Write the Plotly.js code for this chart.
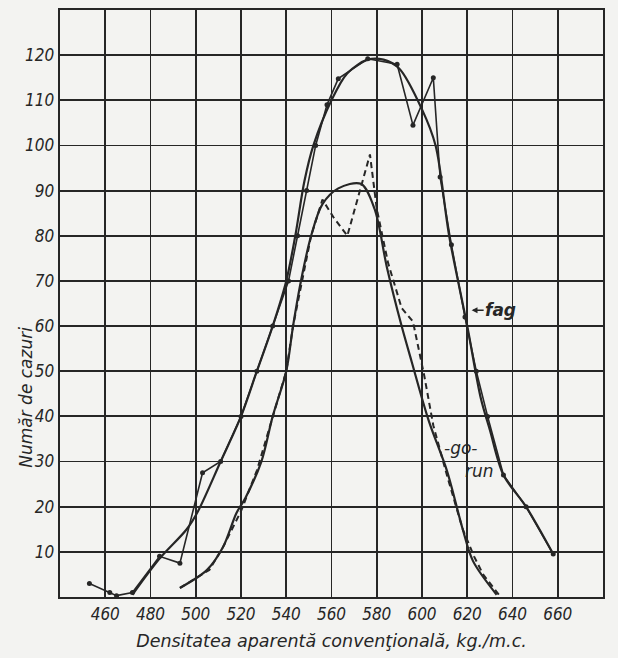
<!DOCTYPE html>
<html>
<head>
<meta charset="utf-8">
<script src="https://cdn.plot.ly/plotly-3.0.1.min.js"></script>
<style>
  html, body { margin: 0; padding: 0; background: #f3f3f1; }
  #chart { width: 618px; height: 658px; }
</style>
</head>
<body>
<div id="chart"></div>
<script>
// ---- Data ----
// Beech (fag): fitted smooth curve
const fagFitX = [472, 484, 496, 501, 511, 520, 527, 534, 540, 544, 548, 552, 560, 567, 576, 583, 590, 600, 606, 612, 620, 626, 630, 636, 646, 658];
const fagFitY = [0.5, 8.5, 15, 19, 30, 40, 50, 60, 70, 80, 92, 100, 110, 116, 119, 119, 117, 108, 100, 80, 60, 44, 37, 27, 20, 9.5];
// Beech (fag): observed polyline with dots
const fagObsX = [453, 462, 465, 472, 484, 493, 503, 511, 520, 527, 534, 541, 545, 549, 553, 558, 563, 576, 589, 596, 605, 608, 613, 619, 624, 629, 636, 646, 658];
const fagObsY = [3, 1, 0.3, 1, 9, 7.5, 27.5, 30, 40, 50, 60, 70, 80, 90, 100, 109, 114.8, 119.2, 118, 104.5, 115, 93, 78, 62, 50, 40, 27, 20, 9.5];
// Sessile oak (gorun): fitted smooth curve
const gorunFitX = [493, 505, 512, 518, 522, 529, 534, 540, 543, 546.5, 551, 556, 563, 573, 579, 584.5, 591, 595.5, 603, 611, 618, 622.5, 633];
const gorunFitY = [2, 6, 11, 18.6, 22, 30, 40, 50, 60, 70, 80, 87, 90.5, 91.5, 86, 73, 60, 52, 39, 28, 15, 8, 0.5];
// Sessile oak (gorun): observed dashed polyline
const gorunObsX = [493, 506, 512, 520, 527, 534, 540, 543, 547, 551, 556, 561, 567, 572, 577, 580, 585, 591, 596, 601, 605, 611, 618, 623, 627, 634];
const gorunObsY = [2, 6, 11, 19, 28, 40, 50, 60, 70, 80, 88, 84, 80, 89, 98, 86, 74, 64, 61, 49, 38, 27, 15, 9, 5, 0.5];
// Tick values
const xTicks = [460, 480, 500, 520, 540, 560, 580, 600, 620, 640, 660];
const yTicks = [10, 20, 30, 40, 50, 60, 70, 80, 90, 100, 110, 120];

const ink = '#262626';
const condensed = 'DejaVu Sans Condensed, Liberation Sans Narrow, DejaVu Sans';
const tickFont = { family: condensed, size: 17, color: ink, style: 'italic' };
const labelFont = { family: 'DejaVu Sans', size: 17.5, color: ink, style: 'italic' };

const traces = [
  { x: fagFitX, y: fagFitY, type: 'scatter', mode: 'lines', name: 'fag (curbă)',
    line: { color: ink, width: 2.2, shape: 'spline', smoothing: 0.9 } },
  { x: fagObsX, y: fagObsY, type: 'scatter', mode: 'lines+markers', name: 'fag',
    line: { color: ink, width: 1.6 }, marker: { color: ink, size: 5 } },
  { x: gorunFitX, y: gorunFitY, type: 'scatter', mode: 'lines', name: 'gorun (curbă)',
    line: { color: ink, width: 2.2, shape: 'spline', smoothing: 0.9 } },
  { x: gorunObsX, y: gorunObsY, type: 'scatter', mode: 'lines', name: 'gorun',
    line: { color: ink, width: 2, dash: '6px,4px' } }
];

const layout = {
  width: 618, height: 658,
  margin: { l: 60, r: 15, t: 10, b: 61 },
  paper_bgcolor: '#f3f3f1',
  plot_bgcolor: '#f3f3f1',
  showlegend: false,
  xaxis: {
    range: [440, 680], tickvals: xTicks, ticktext: xTicks.map(String),
    showgrid: true, gridcolor: ink, gridwidth: 1.8,
    showline: true, linecolor: ink, linewidth: 2.4, mirror: true,
    ticks: '', tickfont: tickFont, zeroline: false,
    title: { text: 'Densitatea aparentă convenţională, kg./m.c.', font: labelFont, standoff: 12 }
  },
  yaxis: {
    range: [0, 130], tickvals: yTicks, ticktext: yTicks.map(String),
    showgrid: true, gridcolor: ink, gridwidth: 1.8,
    showline: true, linecolor: ink, linewidth: 2.4, mirror: true,
    ticks: '', tickfont: tickFont, zeroline: false, ticklabelstandoff: 0
  },
  annotations: [
    { text: 'Număr de cazuri', xref: 'paper', yref: 'paper', x: -0.062, y: 0.34,
      xanchor: 'center', yanchor: 'middle',
      textangle: -90, showarrow: false, font: { family: 'DejaVu Sans', size: 17, color: ink, style: 'italic' } },
    { text: 'fag', x: 621.5, y: 63.5, xref: 'x', yref: 'y', showarrow: true,
      ax: 30, ay: 0, arrowhead: 2, arrowsize: 0.9, arrowwidth: 1.3, arrowcolor: ink, standoff: 1,
      font: { family: 'DejaVu Sans', size: 17, color: ink, style: 'italic', weight: 'bold' } },
    { text: '-go-', x: 617, y: 33, xref: 'x', yref: 'y', showarrow: false,
      font: { family: 'DejaVu Sans', size: 17, color: ink, style: 'italic' } },
    { text: 'run', x: 625.5, y: 28, xref: 'x', yref: 'y', showarrow: false,
      font: { family: 'DejaVu Sans', size: 17, color: ink, style: 'italic' } }
  ]
};

Plotly.newPlot('chart', traces, layout, { displayModeBar: false, staticPlot: true });
</script>
</body>
</html>
